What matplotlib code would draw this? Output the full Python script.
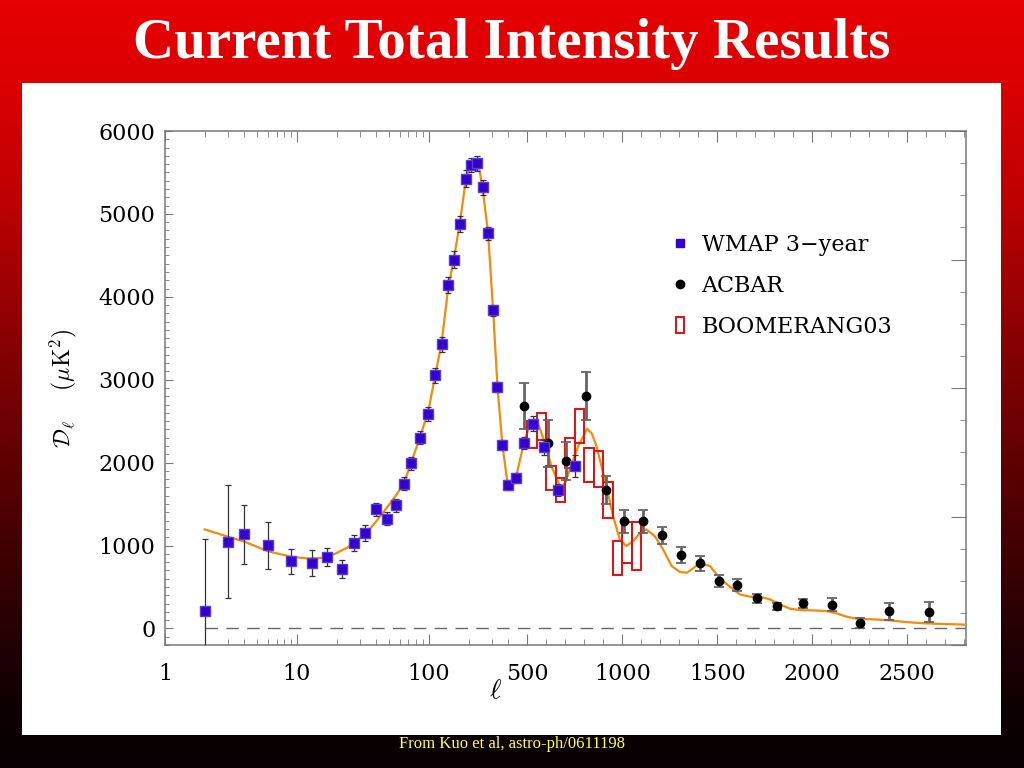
import numpy as np
import matplotlib
matplotlib.use("Agg")
import matplotlib.pyplot as plt
from matplotlib.lines import Line2D
from matplotlib.patches import Rectangle
from matplotlib.ticker import MultipleLocator

plt.rcParams['font.family'] = 'DejaVu Serif'
plt.rcParams['mathtext.fontset'] = 'cm'

# WMAP 3-year band powers (l, D_l, error) in uK^2
wmap_l = [2, 3, 4, 6, 9, 13, 17, 22, 27, 33, 40, 48, 56, 65, 73, 85, 99, 111, 125, 140,
          155, 172, 191, 209, 232, 255, 281, 307, 331, 361, 396, 438, 482, 529, 589, 664, 753]
wmap_d = [210, 1046, 1134, 1001, 812, 788, 865, 716, 1033, 1154, 1435, 1323, 1487, 1745, 1990,
          2300, 2590, 3056, 3426, 4141, 4447, 4877, 5425, 5590, 5613, 5320, 4768, 3836, 2911,
          2216, 1725, 1809, 2235, 2470, 2187, 1673, 1958]
wmap_err = [870, 680, 360, 280, 150, 157, 108, 105, 95, 95, 80, 80, 80, 80, 80, 80, 85, 90, 95,
            100, 100, 100, 100, 90, 90, 90, 80, 70, 65, 60, 60, 60, 70, 90, 90, 70, 130]

# ACBAR
acbar_l = [480, 607, 704, 809, 914, 1008, 1108, 1208, 1308, 1409, 1508, 1606, 1710, 1815,
           1950, 2104, 2250, 2405, 2617]
acbar_d = [2686, 2232, 2023, 2802, 1668, 1291, 1291, 1122, 884, 788, 571, 527, 362, 265,
           302, 286, 68, 205, 201]
acbar_err = [280, 280, 230, 290, 170, 140, 140, 105, 100, 90, 70, 75, 55, 45, 55, 80, 60, 100, 120]

# BOOMERANG03 (bins of width 50)
boom_l = [525, 575, 625, 675, 725, 775, 825, 875, 925, 975, 1025, 1075]
boom_d = [2340, 2435, 1811, 1666, 2115, 2445, 1972, 1923, 1548, 846, 1037, 992]
boom_err = [160, 167, 147, 147, 181, 205, 207, 223, 221, 206, 245, 290]
boom_width = 50

# best-fit model curve
model_l = [2, 3, 4, 6, 9, 12, 15, 19, 24, 28, 34, 40, 48, 57, 65, 73, 85, 99, 111, 125, 140,
           155, 172, 191, 209, 225, 240, 255, 281, 307, 331, 361, 396, 417, 438, 482, 510, 536,
           560, 583, 627, 670, 680, 700, 724, 768, 815, 840, 864, 908, 952, 987, 1022, 1066,
           1100, 1127, 1171, 1215, 1260, 1304, 1339, 1370, 1409, 1462, 1515, 1568, 1620, 1673,
           1725, 1778, 1831, 1883, 1936, 2006, 2077, 2129, 2182, 2234, 2322, 2410, 2497, 2602,
           2708, 2813]
model_d = [1194, 1106, 1046, 932, 865, 844, 848, 893, 973, 1053, 1162, 1294, 1456, 1616, 1758,
           1990, 2290, 2620, 3030, 3450, 4100, 4470, 4900, 5420, 5600, 5650, 5560, 5320, 4770,
           3830, 2920, 2210, 1730, 1685, 1800, 2235, 2440, 2521, 2450, 2300, 1958, 1725, 1709,
           1760, 1918, 2199, 2408, 2350, 2199, 1797, 1355, 1073, 993, 1073, 1170, 1194, 1113,
           953, 752, 680, 671, 720, 790, 752, 600, 500, 410, 382, 382, 350, 290, 238, 221, 217,
           209, 181, 141, 117, 109, 97, 76, 60, 52, 45]

major_ticks = [1, 10, 100, 500, 1000, 1500, 2000, 2500]
major_labels = ['1', '10', '100', '500', '1000', '1500', '2000', '2500']
minor_ticks = (list(range(2, 10)) + list(range(20, 100, 10)) + [200, 300, 400]
               + [v for v in range(600, 2900, 100) if v % 500])

# log axis up to l=400, linear above
L0 = 400.0
K = 0.19 / 132.0


def fwd(l):
    l = np.asarray(l, dtype=float)
    lg = np.log10(np.clip(l, 1e-3, None))
    return np.where(l <= L0, lg, np.log10(L0) + (l - L0) * K)


def inv(u):
    u = np.asarray(u, dtype=float)
    u0 = np.log10(L0)
    return np.where(u <= u0, 10.0 ** np.minimum(u, u0), L0 + (u - u0) / K)


W, H = 1024, 768
fig = plt.figure(figsize=(W / 100, H / 100), dpi=100)

# slide background
bg = fig.add_axes([0, 0, 1, 1], zorder=-10)
rows = np.linspace(0, H, 400)
stops_y = [0, 83, 200, 350, 500, 620, 700, 735, 768]
stops_r = [0.90, 0.86, 0.74, 0.52, 0.32, 0.16, 0.06, 0.04, 0.03]
red = np.interp(rows, stops_y, stops_r)
grad = np.zeros((len(rows), 1, 3))
grad[:, 0, 0] = red
grad[:, 0, 2] = 0.01
bg.imshow(grad, aspect='auto', extent=[0, 1, 0, 1])
bg.add_patch(Rectangle((22 / W, 1 - 735 / H), (1001 - 22) / W, (735 - 83) / H,
                       transform=bg.transAxes, facecolor='white', edgecolor='none'))
bg.axis('off')

fig.text(0.5, 1 - 44 / H, 'Current Total Intensity Results', color='white',
         family='Liberation Serif', fontweight='bold', fontsize=41, ha='center', va='center')
fig.text(0.5, 1 - 744 / H, 'From Kuo et al, astro-ph/0611198', color='#ffff55',
         family='Liberation Serif', fontsize=12, ha='center', va='center')

ax = fig.add_axes([165 / W, 1 - 645 / H, (966 - 165) / W, (645 - 131) / H])
ax.set_xscale('function', functions=(fwd, inv))
ax.set_xlim(1, 2810)
ax.set_ylim(-200, 6000)

ax.plot([2, 2810], [0, 0], color='#666666', lw=1, dashes=(9, 6))

ax.plot(model_l, model_d, color='#f28a0c', lw=1.6, zorder=3)

ax.bar(boom_l, [2 * e for e in boom_err], bottom=[d - e for d, e in zip(boom_d, boom_err)],
       width=boom_width, fill=False, edgecolor='#e01010', lw=1.4, zorder=4)

eb = ax.errorbar(acbar_l, acbar_d, yerr=acbar_err, fmt='o', color='black', ms=6,
                 ecolor='#666666', elinewidth=2, capsize=3.5, capthick=1.3, zorder=5)
for cl in eb[1]:
    cl.set_color('black')

ax.errorbar(wmap_l, wmap_d, yerr=wmap_err, fmt='s', color='#3300cc', mec='#5a3ae0', ms=6.5,
            ecolor='#333333', elinewidth=0.9, capsize=2.5, capthick=0.9, zorder=6)

ax.set_xticks(major_ticks, major_labels)
ax.set_xticks(minor_ticks, minor=True)
ax.set_yticks(range(0, 6001, 1000))
ax.yaxis.set_minor_locator(MultipleLocator(100))

spine_c = '#777777'
for s in ax.spines.values():
    s.set_color(spine_c)
    s.set_linewidth(1.1)
ax.tick_params(which='both', direction='in', colors=spine_c, labelcolor='black',
               top=True, right=False, labelsize=16)
ax.tick_params(axis='x', which='major', length=8, pad=13)
ax.tick_params(axis='x', which='minor', length=4)
ax.tick_params(axis='y', which='major', length=6, pad=7)
ax.tick_params(axis='y', which='minor', length=3)

tw = ax.twinx()
tw.set_ylim(0, 1)
tw.yaxis.set_major_locator(MultipleLocator(0.25))
tw.yaxis.set_minor_locator(MultipleLocator(0.0625))
tw.tick_params(which='both', direction='in', colors=spine_c, labelright=False)
tw.tick_params(which='major', length=11)
tw.tick_params(which='minor', length=4)
for s in tw.spines.values():
    s.set_visible(False)

ax.text(0.412, -0.088, r'$\ell$', transform=ax.transAxes, fontsize=20,
        ha='center', va='center')
ax.set_ylabel(r'$\mathcal{D}_\ell$    $(\mu\mathrm{K}^2)$', fontsize=17, labelpad=14)

handles = [
    Line2D([], [], marker='s', color='#3300cc', ls='none', ms=6),
    Line2D([], [], marker='o', color='black', ls='none', ms=6),
    Rectangle((0, 0), 1, 1, fill=False, edgecolor='#e01010', lw=1.4),
]
ax.legend(handles, ['WMAP 3\u2212year', 'ACBAR', 'BOOMERANG03'], loc='upper left',
          bbox_to_anchor=(676 / W, 1 - 234 / H), bbox_transform=fig.transFigure,
          frameon=False, fontsize=16, handlelength=0.35, handleheight=0.75,
          handletextpad=0.8, labelspacing=0.85, borderpad=0, borderaxespad=0)

fig.savefig('out.png', dpi=100)
